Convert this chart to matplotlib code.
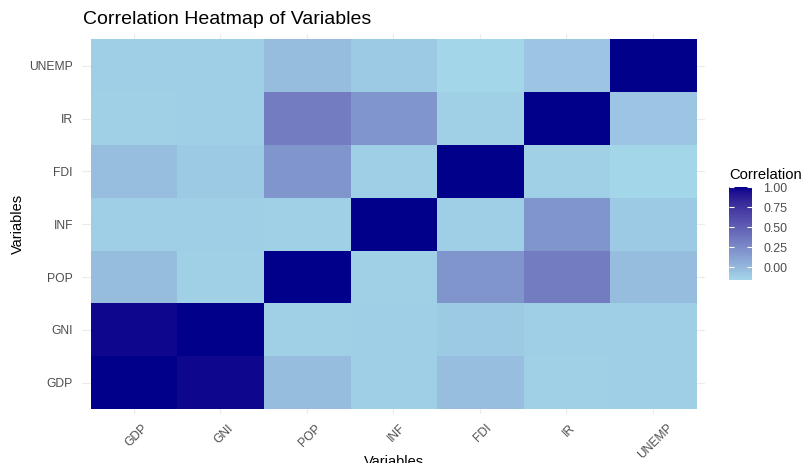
import numpy as np
import matplotlib
matplotlib.use("Agg")
import matplotlib.pyplot as plt
from matplotlib.colors import ListedColormap, to_rgb
import matplotlib.transforms as mtransforms

plt.rcParams['font.family'] = ['Liberation Sans', 'DejaVu Sans']

variables = ["GDP", "GNI", "POP", "INF", "FDI", "IR", "UNEMP"]
corr_gdp = [1.00, 0.97, -0.02, -0.12, -0.03, -0.13, -0.12]
corr_gni = [0.97, 1.00, -0.13, -0.12, -0.09, -0.12, -0.12]
corr_pop = [-0.02, -0.13, 1.00, -0.13, 0.19, 0.33, -0.02]
corr_inf = [-0.12, -0.12, -0.13, 1.00, -0.12, 0.19, -0.09]
corr_fdi = [-0.03, -0.09, 0.19, -0.12, 1.00, -0.13, -0.16]
corr_ir = [-0.13, -0.12, 0.33, 0.19, -0.13, 1.00, -0.07]
corr_unemp = [-0.12, -0.12, -0.02, -0.09, -0.16, -0.07, 1.00]
cbar_ticks = [0.00, 0.25, 0.50, 0.75, 1.00]

corr = np.array([corr_gdp, corr_gni, corr_pop, corr_inf, corr_fdi, corr_ir, corr_unemp])


# --- Lab colour interpolation (like ggplot2's scale_fill_gradient) ---
def srgb_to_lab(rgb):
    rgb = np.asarray(rgb, float)
    lin = np.where(rgb <= 0.04045, rgb / 12.92, ((rgb + 0.055) / 1.055) ** 2.4)
    M = np.array([[0.4124, 0.3576, 0.1805],
                  [0.2126, 0.7152, 0.0722],
                  [0.0193, 0.1192, 0.9505]])
    xyz = M @ lin
    xyz = xyz / np.array([0.95047, 1.0, 1.08883])
    f = np.where(xyz > 216 / 24389, np.cbrt(xyz), (24389 / 27 * xyz + 16) / 116)
    L = 116 * f[1] - 16
    a = 500 * (f[0] - f[1])
    b = 200 * (f[1] - f[2])
    return np.array([L, a, b])


def lab_to_srgb(lab):
    L, a, b = lab
    fy = (L + 16) / 116
    fx = fy + a / 500
    fz = fy - b / 200
    e = 6 / 29
    def finv(t):
        return np.where(t > e, t ** 3, 3 * e * e * (t - 4 / 29))
    xyz = np.array([finv(fx), finv(fy), finv(fz)]) * np.array([0.95047, 1.0, 1.08883])
    Minv = np.array([[3.2406, -1.5372, -0.4986],
                     [-0.9689, 1.8758, 0.0415],
                     [0.0557, -0.2040, 1.0570]])
    lin = Minv @ xyz
    lin = np.clip(lin, 0, 1)
    rgb = np.where(lin <= 0.0031308, 12.92 * lin, 1.055 * lin ** (1 / 2.4) - 0.055)
    return np.clip(rgb, 0, 1)


low_lab = srgb_to_lab(to_rgb("#a3d6e9"))
high_lab = srgb_to_lab(to_rgb("darkblue"))
cols = [lab_to_srgb(low_lab + t * (high_lab - low_lab)) for t in np.linspace(0, 1, 256)]
cmap = ListedColormap(cols)

vmin, vmax = corr.min(), corr.max()

W, H = 806, 463
fig = plt.figure(figsize=(W / 100, H / 100), dpi=100)

left, right = 82, 704.6
top, bottom = 34.2, 414.3
ax = fig.add_axes([left / W, 1 - bottom / H, (right - left) / W, (bottom - top) / H])

n = len(variables)
ax.set_axisbelow(True)
ax.grid(True, color="#ebebeb", linewidth=0.8)
im = ax.imshow(corr, cmap=cmap, vmin=vmin, vmax=vmax, origin="lower",
               aspect="auto", extent=(-0.5, n - 0.5, -0.5, n - 0.5),
               interpolation="nearest", zorder=1)
ax.set_xlim(-0.6, n - 0.4)
ax.set_ylim(-0.6, n - 0.4)
for s in ax.spines.values():
    s.set_visible(False)
ax.set_xticks(range(n))
ax.set_yticks(range(n))
ax.set_xticklabels(variables, rotation=45, ha="center", va="top",
                   fontsize=8.7, color="#4d4d4d")
ax.set_yticklabels(variables, fontsize=8.7, color="#4d4d4d")
ax.tick_params(axis="both", length=0)
ax.tick_params(axis="x", pad=5.5)
ax.tick_params(axis="y", pad=6.5)
offset = mtransforms.ScaledTranslation(3 / 100, 0, fig.dpi_scale_trans)
for lab in ax.get_xticklabels():
    lab.set_transform(lab.get_transform() + offset)

fig.text(83 / W, 1 - 20 / H, "Correlation Heatmap of Variables",
         fontsize=14, ha="left", va="center", color="black")
fig.text(18 / W, 1 - 224 / H, "Variables", rotation=90, fontsize=10.5,
         ha="center", va="center", color="black")
fig.text(393.5 / W, 1 - 454.5 / H, "Variables", fontsize=10.5,
         ha="center", va="top", color="black")

# colourbar
cax = fig.add_axes([729 / W, 1 - 280 / H, 23 / W, 93 / H])
cb = fig.colorbar(im, cax=cax, ticks=cbar_ticks)
cb.outline.set_visible(False)
cb.ax.set_yticklabels([f"{t:.2f}" for t in cbar_ticks], fontsize=8.9, color="#4d4d4d")
cb.ax.tick_params(length=0, pad=8)
cax.hlines(cbar_ticks, 0, 0.2, colors="white", linewidth=0.8, transform=cax.get_yaxis_transform())
cax.hlines(cbar_ticks, 0.8, 1.0, colors="white", linewidth=0.8, transform=cax.get_yaxis_transform())
fig.text(729 / W, 1 - 175 / H, "Correlation", fontsize=10.6, ha="left",
         va="center", color="black")

fig.savefig("out.png", dpi=100, facecolor="white")
